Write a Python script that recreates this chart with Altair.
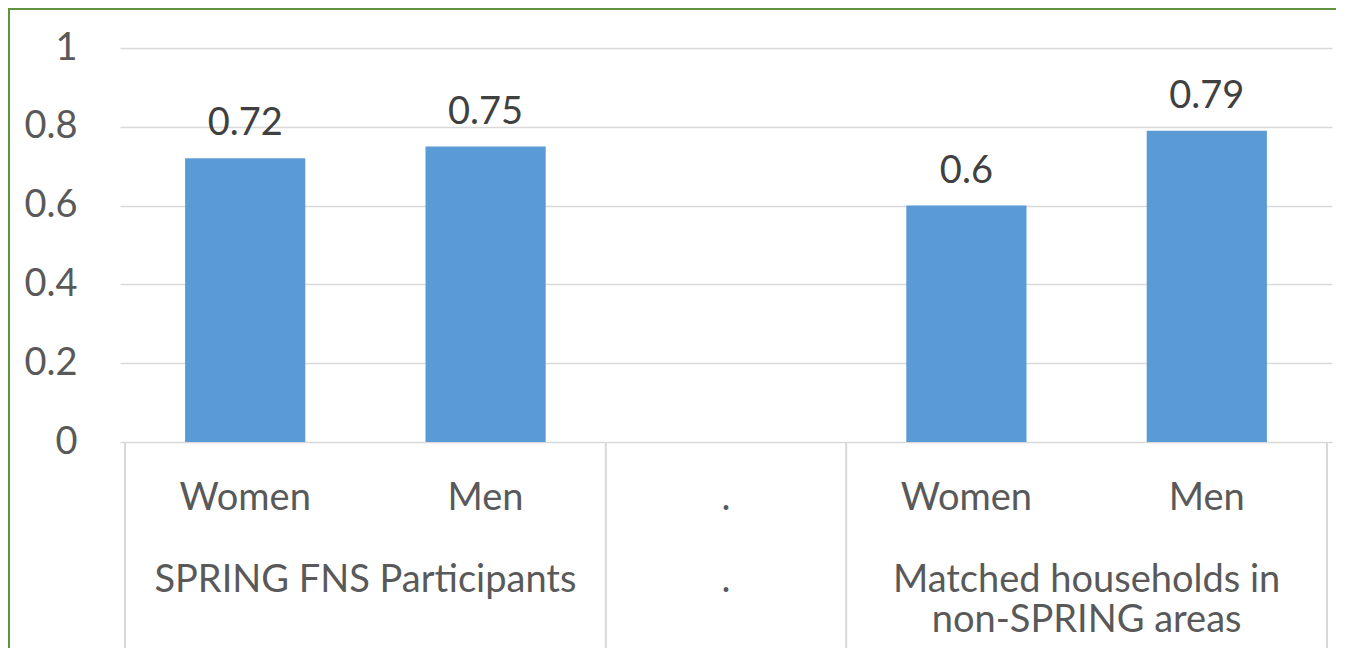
import altair as alt
import pandas as pd

# ---- data ----
categories = ["Women", "Men", ".", "Women", "Men"]
values = [0.72, 0.75, None, 0.60, 0.79]
groups = ["SPRING FNS Participants", ".", "Matched households in\nnon-SPRING areas"]
group_start = [0, 2, 3]
group_end = [2, 3, 5]
y_ticks = [0, 0.2, 0.4, 0.6, 0.8, 1]

# ---- layout / style ----
W, H = 1212, 394
PAD_L, PAD_T, PAD_R, PAD_B = 112, 40, 4, 206
FONT = "Lato"
FS = 38
AXIS_TXT = "#595959"
LABEL_TXT = "#404040"
GRID = "#D9D9D9"
BAR = "#5B9BD5"
BORDER = "#5E9440"

cat_df = pd.DataFrame({"cat": categories, "value": values, "idx": list(range(len(categories)))})
cat_df["x0"] = cat_df["idx"] + 0.25
cat_df["x1"] = cat_df["idx"] + 0.75
cat_df["xc"] = cat_df["idx"] + 0.5
bar_df = cat_df.dropna(subset=["value"]).reset_index(drop=True)

grp_df = pd.DataFrame({"label": groups, "start": group_start, "end": group_end})
grp_df["mid"] = (grp_df["start"] + grp_df["end"]) / 2
sep_df = pd.DataFrame({"pos": sorted(set(group_start + group_end))})

xs = alt.Scale(domain=[0, len(categories)], nice=False, zero=False)
ys = alt.Scale(domain=[0, 1], nice=False)

y_axis = alt.Axis(values=y_ticks, format="~g", grid=True, gridColor=GRID, gridWidth=1.5,
                  domain=False, ticks=False, labelFont=FONT, labelFontSize=FS,
                  labelColor=AXIS_TXT, labelPadding=43, title=None)

bars = alt.Chart(bar_df).mark_bar(color=BAR, orient="vertical").encode(
    x=alt.X("x0:Q", scale=xs, axis=None),
    x2="x1:Q",
    y=alt.Y("value:Q", scale=ys, axis=y_axis),
    y2=alt.datum(0),
)

data_labels = alt.Chart(bar_df).mark_text(
    baseline="alphabetic", dy=-23, font=FONT, fontSize=FS, color=LABEL_TXT
).encode(
    x=alt.X("xc:Q", scale=xs, axis=None),
    y=alt.Y("value:Q", scale=ys, axis=y_axis),
    text=alt.Text("value:Q", format=".2~f"),
)

cat_labels = alt.Chart(cat_df).mark_text(
    baseline="alphabetic", font=FONT, fontSize=FS, color=AXIS_TXT
).encode(
    x=alt.X("xc:Q", scale=xs, axis=None),
    y=alt.value(H + 68),
    text="cat:N",
)

grp_labels = alt.Chart(grp_df).mark_text(
    baseline="alphabetic", font=FONT, fontSize=FS, color=AXIS_TXT,
    lineBreak="\n", lineHeight=40
).encode(
    x=alt.X("mid:Q", scale=xs, axis=None),
    y=alt.value(H + 150),
    text="label:N",
)

separators = alt.Chart(sep_df).mark_rule(color=GRID, strokeWidth=2).encode(
    x=alt.X("pos:Q", scale=xs, axis=None),
    y=alt.value(H),
    y2=alt.value(H + PAD_B),
)

# decorative frame round the chart box; its right and bottom edges fall
# outside the picture, as in the reference
frame = alt.Chart(pd.DataFrame({"a": [0]})).mark_rect(
    fill="transparent", stroke=BORDER, strokeWidth=2
).encode(
    x=alt.value(-PAD_L + 1), x2=alt.value(W + PAD_R + 12),
    y=alt.value(-PAD_T + 1), y2=alt.value(H + PAD_B + 12),
)

chart = alt.layer(
    separators, bars, data_labels, cat_labels, grp_labels, frame
).properties(
    width=W, height=H,
    padding={"left": PAD_L, "top": PAD_T, "right": PAD_R, "bottom": PAD_B},
    autosize=alt.AutoSizeParams(type="none"),
).configure_view(strokeWidth=0)

chart.save("out.html", embed_options={"renderer": "svg", "actions": False})
